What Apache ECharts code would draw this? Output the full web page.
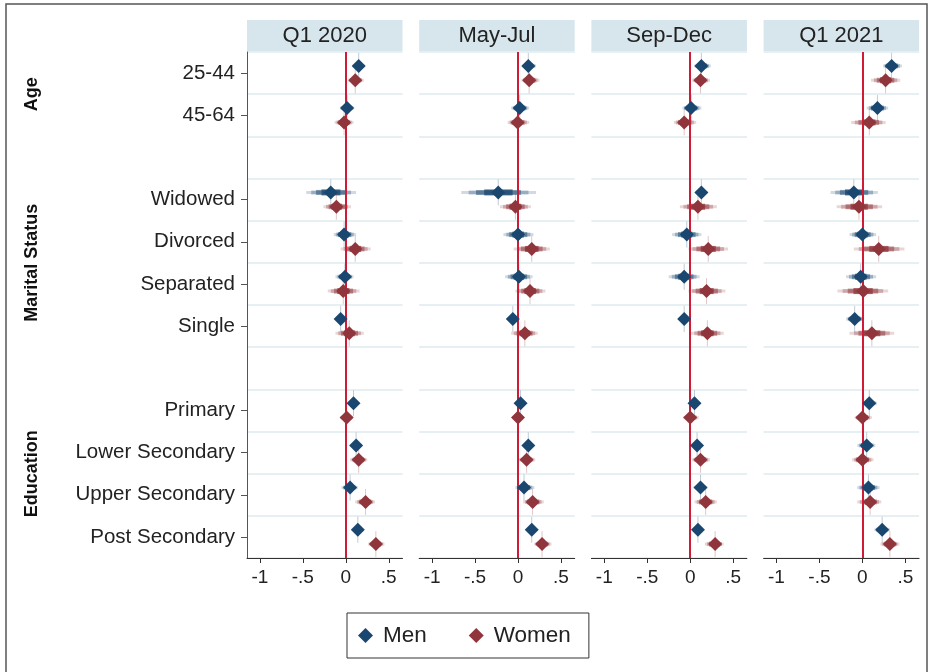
<!DOCTYPE html>
<html>
<head>
<meta charset="utf-8">
<script src="https://cdn.jsdelivr.net/npm/echarts@6/dist/echarts.min.js"></script>
<style>
html,body{margin:0;padding:0;background:#fff;}
#chart{width:931px;height:672px;}
</style>
</head>
<body>
<div id="chart"></div>
<script>
// ---------------- data ----------------
const rowLabels = ["25-44","45-64","","Widowed","Divorced","Separated","Single","","Primary","Lower Secondary","Upper Secondary","Post Secondary"];
const categories = ["25-44","45-64","Widowed","Divorced","Separated","Single","Primary","Lower Secondary","Upper Secondary","Post Secondary"];
const groupNames = ["Age","Marital Status","Education"];
const groupMembers = [["25-44","45-64"],["Widowed","Divorced","Separated","Single"],["Primary","Lower Secondary","Upper Secondary","Post Secondary"]];
const panelTitles = ["Q1 2020","May-Jul","Sep-Dec","Q1 2021"];
const xTickValues = [-1,-0.5,0,0.5];
const seriesNames = ["Men","Women"];

const q1_2020_men_est   = [0.15, 0.015,-0.175,-0.02,-0.01,-0.06, 0.09, 0.12, 0.05, 0.14];
const q1_2020_men_lo    = [0.08,-0.07, -0.46, -0.14,-0.12,-0.10, 0.05, 0.07,-0.05, 0.09];
const q1_2020_men_hi    = [0.22, 0.10,  0.12,  0.12, 0.09,-0.02, 0.13, 0.17, 0.14, 0.19];
const q1_2020_women_est = [0.11,-0.02, -0.11,  0.11,-0.03, 0.04, 0.01, 0.15, 0.23, 0.35];
const q1_2020_women_lo  = [0.03,-0.13, -0.26, -0.06,-0.21,-0.12,-0.07, 0.05, 0.11, 0.26];
const q1_2020_women_hi  = [0.21, 0.09,  0.06,  0.29, 0.16, 0.21, 0.08, 0.25, 0.34, 0.45];

const mayjul_men_est    = [0.12, 0.02, -0.23,  0.00, 0.01,-0.06, 0.03, 0.12, 0.07, 0.16];
const mayjul_men_lo     = [0.05,-0.08, -0.66, -0.17,-0.15,-0.10,-0.02, 0.07,-0.03, 0.10];
const mayjul_men_hi     = [0.21, 0.13,  0.21,  0.18, 0.17,-0.02, 0.08, 0.17, 0.19, 0.22];
const mayjul_women_est  = [0.13,-0.005,-0.03,  0.16, 0.14, 0.08, 0.00, 0.10, 0.17, 0.28];
const mayjul_women_lo   = [0.04,-0.12, -0.21, -0.05,-0.03,-0.08,-0.07, 0.01, 0.06, 0.19];
const mayjul_women_hi   = [0.25, 0.13,  0.15,  0.37, 0.32, 0.23, 0.07, 0.20, 0.30, 0.39];

const sepdec_men_est    = [0.13, 0.01,  0.13, -0.04,-0.07,-0.07, 0.05, 0.08, 0.12, 0.09];
const sepdec_men_lo     = [0.05,-0.09,  0.06, -0.21,-0.25,-0.11, 0.00, 0.03, 0.04, 0.04];
const sepdec_men_hi     = [0.24, 0.13,  0.20,  0.13, 0.11,-0.03, 0.10, 0.13, 0.20, 0.14];
const sepdec_women_est  = [0.12,-0.07,  0.09,  0.21, 0.19, 0.20, 0.00, 0.12, 0.18, 0.29];
const sepdec_women_lo   = [0.02,-0.19, -0.12, -0.02,-0.02, 0.01,-0.08, 0.02, 0.05, 0.17];
const sepdec_women_hi   = [0.23, 0.07,  0.31,  0.44, 0.41, 0.39, 0.10, 0.23, 0.31, 0.39];

const q1_2021_men_est   = [0.34, 0.175,-0.10,  0.00,-0.02,-0.09, 0.08, 0.05, 0.07, 0.23];
const q1_2021_men_lo    = [0.24, 0.05, -0.37, -0.15,-0.19,-0.19, 0.00,-0.06,-0.06, 0.14];
const q1_2021_men_hi    = [0.46, 0.30,  0.18,  0.16, 0.16, 0.02, 0.17, 0.15, 0.20, 0.32];
const q1_2021_women_est = [0.27, 0.08, -0.04,  0.19, 0.01, 0.11, 0.00, 0.00, 0.09, 0.32];
const q1_2021_women_lo  = [0.10,-0.13, -0.30, -0.10,-0.29,-0.15,-0.09,-0.12,-0.06, 0.21];
const q1_2021_women_hi  = [0.44, 0.27,  0.23,  0.49, 0.30, 0.37, 0.11, 0.13, 0.22, 0.43];

const panelData = [
  {men:[q1_2020_men_est,q1_2020_men_lo,q1_2020_men_hi], women:[q1_2020_women_est,q1_2020_women_lo,q1_2020_women_hi]},
  {men:[mayjul_men_est,mayjul_men_lo,mayjul_men_hi], women:[mayjul_women_est,mayjul_women_lo,mayjul_women_hi]},
  {men:[sepdec_men_est,sepdec_men_lo,sepdec_men_hi], women:[sepdec_women_est,sepdec_women_lo,sepdec_women_hi]},
  {men:[q1_2021_men_est,q1_2021_men_lo,q1_2021_men_hi], women:[q1_2021_women_est,q1_2021_women_lo,q1_2021_women_hi]}
];

// ---------------- style / layout ----------------
const FONT = "'Liberation Sans', Arial, Helvetica, sans-serif";
const MEN_COLOR = '#1a476f';
const WOMEN_COLOR = '#90353b';
const REF_COLOR = '#cf1b35';
const GRID_LEFT0 = 247, GRID_STEP = 172.2, GRID_W = 155.5, GRID_TOP = 52, GRID_H = 506;
const OFFSET = 0.17;

function tickFmt(v){
  if (v === 0) return '0';
  const s = String(Math.abs(v)).replace(/^0/, '');
  return (v < 0 ? '-' : '') + s;
}

function ciRender(color){
  return function(params, api){
    const lo = api.value(0), hi = api.value(1), est = api.value(2), y = api.value(3);
    const levels = [[1.0, 3, 0.2],[0.8, 4, 0.3],[0.6, 5, 0.5],[0.38, 6, 0.75]];
    const children = [];
    const c = api.coord([est, y]);
    children.push({type:'line', shape:{x1:c[0], y1:c[1]-13, x2:c[0], y2:c[1]+13},
      style:{stroke: color, opacity: 0.28, lineWidth: 1}});
    levels.forEach(function(l){
      const a = api.coord([est - (est - lo) * l[0], y]);
      const b = api.coord([est + (hi - est) * l[0], y]);
      children.push({type:'rect', shape:{x:a[0], y:a[1]-l[1]/2, width:Math.max(0.5,b[0]-a[0]), height:l[1]},
        style:{fill: color, opacity: l[2]}});
    });
    return {type:'group', children: children};
  };
}

const grids = [], xAxes = [], yAxes = [], series = [], graphics = [];

// frame
graphics.push({type:'rect', shape:{x:6, y:4, width:921, height:720}, style:{fill:'none', stroke:'#555', lineWidth:1.5}, z:0, silent:true});

panelTitles.forEach(function(title, p){
  const left = GRID_LEFT0 + p * GRID_STEP;
  grids.push({left: left, top: GRID_TOP, width: GRID_W, height: GRID_H, containLabel: false});
  xAxes.push({
    type:'value', gridIndex:p, min:-1.15, max:0.66,
    axisLine:{show:true, onZero:false, lineStyle:{color:'#333', width:1}},
    axisTick:{show:true, length:5, customValues: xTickValues, lineStyle:{color:'#333'}},
    axisLabel:{show:true, customValues: xTickValues, formatter: tickFmt, fontSize:19, color:'#222', fontFamily:FONT, margin:10},
    splitLine:{show:false}
  });
  yAxes.push({
    type:'category', gridIndex:p, data: rowLabels, inverse:true, boundaryGap:true,
    axisLine:{show: p === 0, onZero:false, lineStyle:{color:'#555', width:1}},
    axisTick:{show: p === 0, alignWithLabel:true, length:6, interval: function(i, v){ return v !== ''; }, lineStyle:{color:'#555'}},
    axisLabel:{show: p === 0, interval:0, fontSize:20.5, color:'#222', fontFamily:FONT, margin:12},
    splitLine:{show:true, interval:0, lineStyle:{color:'#e6eff2', width:2}}
  });
  // header strip
  graphics.push({type:'rect', shape:{x:left, y:20, width:GRID_W, height:31.5}, style:{fill:'#d7e5ec'}, silent:true});
  graphics.push({type:'text', x:left + GRID_W/2, y:36, style:{text:title, fill:'#222', font:'22px ' + FONT, align:'center', verticalAlign:'middle'}, silent:true});
});

panelTitles.forEach(function(title, p){
  yAxes.push({type:'value', gridIndex:p, min:0.5, max:12.5, inverse:true, show:false});
});

function rowValue(cat){ return rowLabels.indexOf(cat) + 1; }

panelTitles.forEach(function(title, p){
  const d = panelData[p];
  [['men', MEN_COLOR, -OFFSET, 'Men'], ['women', WOMEN_COLOR, OFFSET, 'Women']].forEach(function(s, k){
    const arr = d[s[0]];
    const ciData = categories.map(function(cat, i){ return [arr[1][i], arr[2][i], arr[0][i], rowValue(cat) + s[2]]; });
    const ptData = categories.map(function(cat, i){ return [arr[0][i], rowValue(cat) + s[2]]; });
    const ci = {
      type:'custom', name: s[3] + ' CI', xAxisIndex:p, yAxisIndex:4 + p, z:2, silent:true,
      renderItem: ciRender(s[1]), encode:{x:[0,1,2], y:3}, data: ciData, clip:false
    };
    if (k === 0) {
      ci.markLine = {silent:true, symbol:'none', label:{show:false}, animation:false,
        lineStyle:{color:REF_COLOR, width:2, type:'solid'}, data:[{xAxis:0}]};
    }
    series.push(ci);
    series.push({
      type:'scatter', name: s[3], xAxisIndex:p, yAxisIndex:4 + p, z:5,
      symbol:'diamond', symbolSize:14, itemStyle:{color:s[1], opacity:1}, data: ptData
    });
  });
});

const chart = echarts.init(document.getElementById('chart'), null, {renderer:'canvas'});
chart.setOption({
  animation:false,
  backgroundColor:'#fff',
  textStyle:{fontFamily:FONT},
  grid: grids, xAxis: xAxes, yAxis: yAxes, series: series,
  legend:{
    data: seriesNames, left:347, top:613, orient:'horizontal',
    borderColor:'#333', borderWidth:1, borderRadius:0, padding:[11,18,11,11],
    itemGap:42, itemWidth:15, itemHeight:15, icon:'diamond',
    textStyle:{fontSize:22.5, color:'#222', fontFamily:FONT, padding:[0,0,0,5]}
  },
  graphic: graphics
});

// group labels positioned through the hidden value axis
const groupGraphics = groupNames.map(function(g, i){
  const vals = groupMembers[i].map(rowValue);
  const mid = (Math.min.apply(null, vals) + Math.max.apply(null, vals)) / 2;
  const py = chart.convertToPixel({yAxisIndex:4}, mid);
  return {type:'text', x:32, y:py, rotation:Math.PI/2,
    style:{text:g, fill:'#111', font:'bold 18px ' + FONT, align:'center', verticalAlign:'middle'}, silent:true};
});
chart.setOption({graphic: graphics.concat(groupGraphics)});
</script>
</body>
</html>
